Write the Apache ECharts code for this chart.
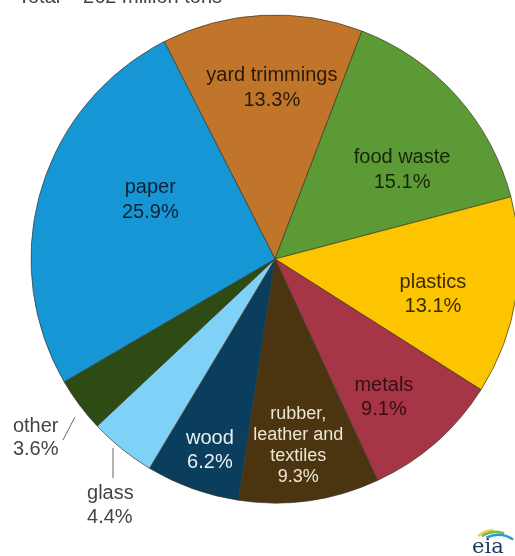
<!DOCTYPE html>
<html>
<head>
<meta charset="utf-8">
<script src="https://cdn.jsdelivr.net/npm/echarts@6/dist/echarts.min.js"></script>
<style>html,body{margin:0;padding:0;background:#fff}#c{width:515px;height:556px}</style>
</head>
<body>
<div id="c"></div>
<script>
// ---- data ----
const categories = ['yard trimmings', 'food waste', 'plastics', 'metals', 'rubber,\nleather and\ntextiles', 'wood', 'glass', 'other', 'paper'];
const shares = [13.3, 15.1, 13.1, 9.1, 9.3, 6.2, 4.4, 3.6, 25.9];
const titleText = 'Total = 262 million tons';

// ---- styling ----
const colors = ['#c0752b', '#5b9a35', '#fdc400', '#a63545', '#4a3510', '#0b3d5c', '#80d1f8', '#2f4b14', '#1796d6'];
const textColors = ['#2a1a08', '#17260a', '#3a2a00', '#3a0d15', '#efe6d2', '#e8f0f4', '#444', '#444', '#0d2236'];
const fontSizes = [20, 20, 20, 20, 18, 20, 20, 20, 20];
const lineHeights = [25, 25, 24, 24, 21, 24, 24, 23, 25];
const START = 117;
const CX = 275, CY = 259, R = 244;
// label radial distance and angular tweak (deg) per slice
const labR = [171, 155, 162, 176, 188, 202, 249, 255, 138];
const labDA = [-2, -7, -4, -3, -1, 1, -1.7, 1.6, -9];

const total = shares.reduce((a, b) => a + b, 0);
function midAngle(i) {
  let c = 0;
  for (let j = 0; j < i; j++) c += shares[j];
  return START - (c + shares[i] / 2) / total * 360;
}
function polar(angDeg, r) {
  const a = angDeg * Math.PI / 180;
  return [CX + r * Math.cos(a), CY - r * Math.sin(a)];
}

const outside = { 6: true, 7: true };

const data = categories.map((name, i) => ({
  name: name,
  value: shares[i],
  itemStyle: { color: colors[i] },
  label: {
    position: outside[i] ? 'outside' : 'inside',
    color: textColors[i],
    fontSize: fontSizes[i],
    lineHeight: lineHeights[i],
    align: outside[i] ? 'left' : 'center'
  },
  labelLine: { show: !!outside[i], lineStyle: { color: '#666', width: 1 } }
}));

const chart = echarts.init(document.getElementById('c'), null, { renderer: 'canvas' });
chart.setOption({
  animation: false,
  title: {
    text: titleText,
    left: 13,
    top: -18,
    textStyle: { fontFamily: 'Liberation Sans, Arial, sans-serif', fontSize: 20, fontWeight: 'normal', color: '#444' }
  },
  series: [{
    type: 'pie',
    center: [CX, CY],
    radius: R,
    startAngle: START,
    clockwise: true,
    avoidLabelOverlap: false,
    data: data,
    itemStyle: { borderColor: '#3a3a2a', borderWidth: 0.7 },
    label: {
      show: true,
      formatter: '{b}\n{c}%',
      fontFamily: 'Liberation Sans, Arial, sans-serif'
    },
    labelLine: { length: 10, length2: 10 },
    labelLayout: function (p) {
      const i = p.dataIndex;
      const ang = midAngle(i) + labDA[i];
      if (i === 6) {
        const s = polar(ang, labR[i]);
        const e = [s[0], s[1] + 30];
        return { x: e[0] - 26, y: e[1] + 27, align: 'left', verticalAlign: 'middle', labelLinePoints: [s, e, e] };
      }
      if (i === 7) {
        const s = polar(ang, labR[i]);
        const e = [s[0] - 12, s[1] + 23];
        return { x: e[0] - 50, y: e[1] - 2, align: 'left', verticalAlign: 'middle', labelLinePoints: [s, e, e] };
      }
      const pt = polar(ang, labR[i]);
      return { x: pt[0], y: pt[1], align: 'center', verticalAlign: 'middle' };
    }
  }],
  graphic: [
    { type: 'arc', shape: { cx: 494, cy: 554, r: 24, startAngle: -2.3, endAngle: -1.6 }, style: { stroke: '#f2d24a', lineWidth: 2.5, fill: null } },
    { type: 'arc', shape: { cx: 496, cy: 558, r: 26, startAngle: -2.15, endAngle: -1.25 }, style: { stroke: '#79b84a', lineWidth: 2.5, fill: null } },
    { type: 'arc', shape: { cx: 498, cy: 563, r: 28, startAngle: -2.0, endAngle: -1.0 }, style: { stroke: '#2a9ad6', lineWidth: 2.5, fill: null } },
    { type: 'text', left: 472, top: 537, style: { text: 'eia', font: '21px "DejaVu Serif", "Liberation Serif", serif', fill: '#1c3a5e' } }
  ]
});
</script>
</body>
</html>
